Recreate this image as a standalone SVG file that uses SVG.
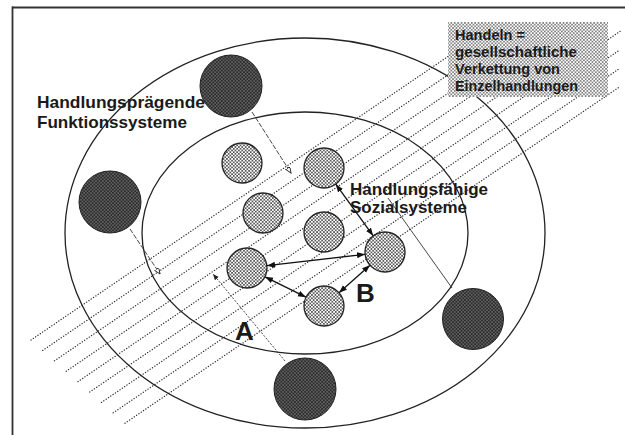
<svg xmlns="http://www.w3.org/2000/svg" width="625" height="435" viewBox="0 0 625 435">
<style>
.frame{stroke:#333;stroke-width:1.8;fill:none}
.ell{fill:none;stroke:#222;stroke-width:1.3}
.stripe{stroke:#2a2a2a;stroke-width:1.3;stroke-dasharray:0.1 2.7;stroke-linecap:round;fill:none}
.dark{fill:url(#pd);stroke:#222;stroke-width:1}
.light{fill:url(#pl);stroke:#222;stroke-width:1.3}
.box{fill:url(#pb);stroke:none}
.lbl{font-family:"Liberation Sans",Arial,Helvetica,sans-serif;font-weight:bold;fill:#1a1a1a}
.dbl{stroke:#111;stroke-width:1.3;fill:none;marker-start:url(#fa);marker-end:url(#fa)}
.thin{stroke:#333;stroke-width:0.9;fill:none}
</style>
<defs>
<pattern id="pl" width="3.4" height="3.4" patternUnits="userSpaceOnUse">
<rect width="3.4" height="3.4" fill="#fff"/>
<circle cx="0.85" cy="0.85" r="0.85" fill="#222"/>
<circle cx="2.55" cy="2.55" r="0.85" fill="#222"/>
</pattern>
<pattern id="pb" width="3.4" height="3.4" patternUnits="userSpaceOnUse">
<rect width="3.4" height="3.4" fill="#fff"/>
<circle cx="0.85" cy="0.85" r="0.75" fill="#444"/>
<circle cx="2.55" cy="2.55" r="0.75" fill="#444"/>
</pattern>
<pattern id="pd" width="3.4" height="3.4" patternUnits="userSpaceOnUse">
<rect width="3.4" height="3.4" fill="#2a2a2a"/>
<circle cx="0.85" cy="0.85" r="0.6" fill="#c0c0c0"/>
<circle cx="2.55" cy="2.55" r="0.6" fill="#c0c0c0"/>
</pattern>
<marker id="fa" markerWidth="9" markerHeight="7" refX="8" refY="3" orient="auto-start-reverse" markerUnits="userSpaceOnUse">
<path d="M0,0 L8,3 L0,6 z" fill="#111"/>
</marker>
<marker id="oa" markerWidth="8" markerHeight="7" refX="6" refY="2.5" orient="auto" markerUnits="userSpaceOnUse">
<path d="M0,0 L6,2.5 L0,5 z" fill="#fff" stroke="#222" stroke-width="0.9"/>
</marker>
<marker id="sa" markerWidth="8" markerHeight="7" refX="6" refY="2.5" orient="auto" markerUnits="userSpaceOnUse">
<path d="M0,0 L6,2.5 L0,5 z" fill="#222"/>
</marker>
</defs>

<g id="frame">
<line class="frame" x1="12" y1="7.5" x2="625" y2="7.5"/>
<line class="frame" x1="12.5" y1="6.6" x2="12.5" y2="435"/>
</g>

<g id="stripes">
<line class="stripe" x1="31" y1="340" x2="487" y2="30"/>
<line class="stripe" x1="42.75" y1="350.4" x2="514" y2="30"/>
<line class="stripe" x1="54.5" y1="360.8" x2="541" y2="30"/>
<line class="stripe" x1="66.25" y1="371.2" x2="568" y2="30"/>
<line class="stripe" x1="78" y1="381.6" x2="595" y2="30"/>
<line class="stripe" x1="89.75" y1="392" x2="620" y2="31.4"/>
<line class="stripe" x1="101.5" y1="402.4" x2="620" y2="49.8"/>
<line class="stripe" x1="113.25" y1="412.8" x2="620" y2="68.2"/>
<line class="stripe" x1="125" y1="423.2" x2="620" y2="86.6"/>
</g>

<g id="ellipses">
<ellipse id="outer" class="ell" cx="305" cy="233" rx="240" ry="195"/>
<ellipse id="inner" class="ell" cx="305" cy="233" rx="163" ry="121"/>
</g>

<g id="box">
<rect class="box" x="448" y="22" width="160" height="75"/>
</g>

<g id="connectors">
<line class="thin" stroke-dasharray="5 1.5" x1="252" y1="112" x2="291" y2="173" marker-end="url(#oa)"/>
<line class="thin" stroke-dasharray="5 1.5" x1="130" y1="229" x2="160" y2="274" marker-end="url(#oa)"/>
<line class="thin" stroke-dasharray="2 1.5" x1="285" y1="361" x2="213" y2="274" marker-end="url(#sa)"/>
<line class="thin" x1="452" y1="288" x2="388" y2="198"/>
<line class="dbl" x1="267" y1="265.7" x2="365" y2="254.3"/>
<line class="dbl" x1="265" y1="276.8" x2="306" y2="297.2"/>
<line class="dbl" x1="339" y1="292.7" x2="370" y2="265.3"/>
<line class="dbl" x1="335.8" y1="184.2" x2="373.2" y2="235.8"/>
</g>

<g id="dark-top"><circle class="dark" cx="231" cy="86" r="31"/></g>
<g id="dark-left"><circle class="dark" cx="110" cy="202" r="31"/></g>
<g id="dark-right"><circle class="dark" cx="473" cy="319" r="30.5"/></g>
<g id="dark-bottom"><circle class="dark" cx="305" cy="389" r="31"/></g>

<g id="light-1"><circle class="light" cx="242" cy="163" r="20"/></g>
<g id="light-2"><circle class="light" cx="324" cy="168" r="20"/></g>
<g id="light-3"><circle class="light" cx="263" cy="213" r="20"/></g>
<g id="light-4"><circle class="light" cx="324" cy="232" r="20"/></g>
<g id="light-5"><circle class="light" cx="247" cy="268" r="20"/></g>
<g id="light-6"><circle class="light" cx="385" cy="252" r="20"/></g>
<g id="light-7"><circle class="light" cx="324" cy="306" r="20"/></g>

<g id="labels">
<text class="lbl" x="37" y="108" font-size="17" textLength="168" lengthAdjust="spacingAndGlyphs">Handlungsprägende</text>
<text class="lbl" x="37" y="128" font-size="17" textLength="150" lengthAdjust="spacingAndGlyphs">Funktionssysteme</text>
<text class="lbl" x="350" y="195" font-size="16.5" textLength="138" lengthAdjust="spacingAndGlyphs">Handlungsfähige</text>
<text class="lbl" x="350" y="212.5" font-size="16.5" textLength="117" lengthAdjust="spacingAndGlyphs">Sozialsysteme</text>
<text class="lbl" x="455" y="40" font-size="14.5" textLength="70" lengthAdjust="spacingAndGlyphs">Handeln =</text>
<text class="lbl" x="455" y="57" font-size="14.5" textLength="122" lengthAdjust="spacingAndGlyphs">gesellschaftliche</text>
<text class="lbl" x="455" y="74" font-size="14.5" textLength="105" lengthAdjust="spacingAndGlyphs">Verkettung von</text>
<text class="lbl" x="455" y="91" font-size="14.5" textLength="123" lengthAdjust="spacingAndGlyphs">Einzelhandlungen</text>
<text class="lbl" x="235" y="340" font-size="26">A</text>
<text class="lbl" x="356" y="302" font-size="26">B</text>
</g>
</svg>
